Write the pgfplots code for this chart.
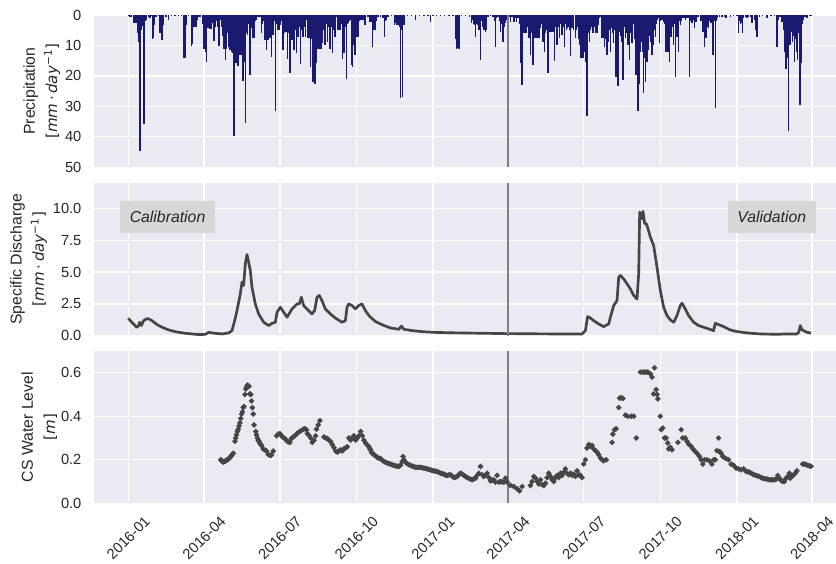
\documentclass[border=0pt]{standalone}
\usepackage{pgfplots}
\usepackage{pgfplotstable}
\pgfplotsset{compat=1.18}
\usepackage{fontspec}
\setmainfont{Liberation Sans}
\newfontfamily\dejavu{DejaVu Sans}
\definecolor{bgc}{HTML}{EAEAF2}
\definecolor{pcol}{HTML}{191970}
\definecolor{lcol}{HTML}{454545}
\definecolor{vcol}{HTML}{808080}
\definecolor{txt}{HTML}{262626}
\definecolor{boxc}{RGB}{215,215,217}
\newcommand{\unitline}[1]{{\dejavu\fontsize{11.3}{14}\selectfont[#1]}}

\pgfplotstableread{
d v
0 0.3
2 0.5
4 0.8
6 1.2
7 2.5
8 2.7
9 1.8
10 2.6
11 6.0
12 8.8
13 3.0
14 44.5
15 5.0
16 4.5
17 3.5
18 5.0
19 35.8
20 2.0
21 1.6
22 0.8
24 0.5
26 1.0
28 0.4
29 7.9
30 7.5
31 3.3
33 0.5
36 0.3
38 6.0
40 8.2
41 8.2
42 3.3
45 0.5
48 1.5
52 0.3
56 0.3
60 0.3
64 0.3
67 14.1
68 14.2
69 3.3
72 0.4
76 10.2
77 9.5
78 3.8
79 3.5
80 3.9
81 2.5
82 3.8
83 1.6
85 0.5
87 0.8
89 3.0
90 11.0
91 11.0
92 4.5
93 12.0
94 15.3
95 4.4
96 4.4
97 3.0
98 4.5
99 2.0
100 4.5
101 2.5
102 4.4
103 8.4
104 3.0
105 3.8
106 2.0
107 3.8
108 2.0
109 10.2
110 1.5
111 1.1
112 4.0
113 7.0
114 11.0
115 9.0
116 11.0
117 14.8
118 11.0
119 6.0
120 10.4
121 8.0
122 11.5
123 9.0
124 12.0
125 12.6
126 9.0
127 39.7
128 15.9
129 12.0
130 15.9
131 15.0
132 16.7
133 8.0
134 13.2
135 10.0
136 13.2
137 5.0
138 21.7
139 8.0
140 15.3
141 35.3
142 6.0
143 6.6
144 3.0
145 2.0
146 19.7
147 2.0
148 4.4
149 7.7
150 3.0
151 7.7
152 2.0
154 1.6
156 0.5
158 0.8
160 6.0
161 3.0
163 2.0
164 8.2
165 5.0
166 11.5
167 4.0
168 8.2
169 7.7
170 5.0
171 7.7
172 13.9
173 3.0
174 6.6
175 2.0
177 31.5
178 3.0
179 4.9
180 4.9
181 4.9
182 2.0
183 3.3
184 2.0
185 2.0
186 11.5
187 6.0
188 5.5
189 3.0
190 5.5
191 14.6
192 6.0
193 4.0
194 19.2
195 5.0
196 8.2
197 4.0
198 8.2
199 11.5
200 5.0
201 3.0
202 12.4
203 4.0
204 7.1
205 3.0
206 4.0
207 16.2
208 5.0
209 3.0
210 7.1
211 2.0
212 4.0
213 7.1
214 1.5
215 3.0
216 7.7
217 5.0
218 7.7
219 17.0
220 8.0
221 10.0
222 21.9
223 12.0
224 22.8
225 10.0
226 15.9
227 9.0
228 11.0
229 7.0
230 11.0
231 9.0
232 11.0
233 9.3
234 5.0
235 4.0
236 9.9
237 5.0
238 3.0
239 8.8
240 4.0
241 2.0
242 11.0
243 6.0
244 4.0
245 12.4
246 5.0
247 3.0
248 7.1
249 1.1
250 0.5
252 4.9
253 3.0
254 4.9
255 4.9
256 3.0
257 14.6
258 4.0
259 12.6
260 2.0
261 4.0
262 21.0
263 3.0
264 2.7
265 2.0
266 1.6
267 1.6
268 16.4
269 17.0
270 10.0
271 5.0
272 13.2
273 3.0
274 7.1
275 4.0
276 7.1
277 2.0
278 1.6
279 1.0
280 1.6
282 1.6
284 3.3
285 1.0
288 0.8
290 2.2
291 1.0
292 2.2
293 10.5
294 4.9
295 4.9
296 3.0
297 4.9
298 2.0
300 0.5
303 0.5
306 1.0
308 7.1
309 2.0
310 1.6
312 0.5
316 0.3
320 3.3
321 2.5
322 3.3
323 2.0
324 3.3
325 3.3
326 4.0
327 27.4
328 5.0
329 27.0
330 3.3
331 3.3
332 1.0
335 0.3
340 0.3
345 1.8
350 0.3
355 0.3
360 0.3
363 2.2
366 0.3
370 0.3
375 0.3
380 0.3
385 0.3
390 0.3
393 8.0
394 11.2
395 3.0
396 10.7
397 11.0
398 2.0
400 0.3
405 0.3
410 0.5
412 2.7
413 1.5
415 3.0
416 3.3
417 7.1
418 2.0
419 3.0
420 3.3
421 5.0
422 3.0
423 14.8
424 2.0
425 1.5
426 3.8
427 4.9
428 2.0
429 5.5
430 4.9
432 0.5
435 0.3
438 0.5
440 2.0
441 10.5
442 1.0
444 0.5
446 2.0
447 5.5
448 3.0
449 2.0
450 9.0
451 4.0
453 2.7
455 1.5
457 0.5
459 2.2
461 0.5
463 2.2
465 1.0
466 2.2
468 1.0
470 3.0
471 15.8
472 5.0
473 23.0
474 6.0
475 6.0
476 4.0
477 6.0
478 6.0
479 3.0
480 4.0
481 7.7
482 5.0
483 13.2
484 4.0
485 6.0
486 16.5
487 5.0
488 7.7
489 7.7
490 4.0
491 7.7
492 5.0
493 7.7
494 3.0
495 4.4
496 3.0
497 2.0
498 8.8
499 4.0
500 12.1
501 6.0
502 5.0
503 4.0
504 19.2
505 4.0
506 5.5
507 5.5
508 5.5
509 3.0
510 5.5
511 4.0
512 15.1
513 4.0
514 3.0
515 9.9
516 4.0
517 3.0
518 7.7
519 3.0
520 5.0
521 6.6
522 4.0
523 3.0
524 10.4
525 3.0
526 5.0
527 4.4
528 3.0
529 4.0
530 5.0
531 13.5
532 4.0
533 4.4
534 3.0
535 5.0
537 7.7
538 5.0
539 3.8
540 3.0
541 8.0
542 10.0
543 14.2
544 12.0
545 14.2
546 10.0
547 14.2
548 12.0
549 15.3
550 10.0
551 33.2
552 6.0
553 4.0
554 8.8
555 5.0
556 3.3
557 4.0
558 6.0
559 6.0
560 4.0
561 6.0
562 3.0
563 6.0
564 3.3
565 3.3
566 1.0
567 0.5
569 7.7
570 4.0
571 7.7
572 10.4
573 5.0
574 8.0
575 13.2
576 6.0
577 8.8
578 5.0
579 12.1
580 3.0
581 4.4
582 6.0
583 9.3
584 5.0
585 4.0
586 20.3
587 6.0
588 23.3
589 4.0
590 5.5
591 3.0
592 7.0
593 8.8
594 21.4
595 5.0
596 4.0
597 7.7
598 5.0
599 6.0
600 9.9
601 5.0
602 14.8
603 6.0
604 4.0
605 9.3
606 3.0
607 2.7
608 8.0
609 12.0
610 19.7
611 15.0
612 31.5
613 10.0
614 22.5
615 12.0
616 9.0
617 8.8
618 12.0
619 25.5
620 14.0
621 21.9
622 10.0
623 15.3
624 9.0
625 11.5
626 7.0
627 8.8
628 6.0
629 13.2
630 6.0
631 9.9
632 5.0
633 7.1
634 3.0
635 1.5
636 1.0
638 9.3
639 2.0
640 1.0
641 1.6
643 2.2
644 3.0
645 5.0
646 12.2
647 8.0
648 12.2
649 5.0
650 15.5
651 4.0
652 7.1
653 3.0
654 4.0
655 9.9
656 3.0
657 20.3
658 4.0
659 7.1
660 3.0
661 12.1
662 2.0
663 3.3
664 2.0
666 1.0
668 1.0
669 1.6
671 1.0
673 1.0
674 20.3
675 2.0
677 2.7
678 1.5
680 4.4
681 1.5
682 2.2
684 0.5
687 1.1
688 2.0
690 5.5
691 4.0
692 10.4
693 6.0
694 7.7
695 3.0
696 4.0
697 4.4
698 2.0
700 2.7
701 2.0
702 13.2
703 5.0
704 2.0
705 30.5
706 2.0
707 1.0
710 0.5
713 0.8
716 0.5
718 1.0
723 0.5
727 0.3
731 0.3
733 6.0
734 2.0
735 3.0
736 2.7
737 1.0
738 6.0
739 1.0
741 0.5
743 1.1
745 0.5
747 0.5
749 2.7
750 1.0
752 1.6
753 5.0
755 7.1
756 1.0
758 0.5
762 0.3
767 1.1
772 0.3
776 0.3
779 10.4
780 2.0
781 1.6
783 0.5
785 2.2
786 1.0
787 5.0
788 12.2
789 8.0
790 17.8
791 12.0
792 14.0
793 38.1
794 8.0
795 9.9
796 5.0
797 5.5
798 9.0
799 7.0
800 15.3
801 8.0
802 7.7
803 12.0
804 14.8
805 6.0
806 14.8
807 29.4
808 15.9
809 3.0
810 1.0
811 1.6
813 0.5
815 0.9
818 0.3
820 0.3
}\precip

\pgfplotstableread{
d v
0 1.37
4 1.05
8 0.80
10 0.66
12 0.75
13.6 1.05
15.6 0.79
18.4 1.18
22.4 1.34
25 1.30
28.4 1.18
34.4 0.87
40.4 0.66
48.4 0.45
55 0.33
60.5 0.26
68.5 0.18
76.5 0.13
84.5 0.08
92.5 0.10
96.5 0.26
100 0.22
104.5 0.18
112.5 0.13
120.5 0.21
124.5 0.39
127.7 1.18
130.5 1.97
134.5 3.29
136.5 4.21
138.5 3.95
140.5 5.66
142.5 6.39
144.5 5.79
146.5 5.13
148.5 3.82
152.5 2.50
156.5 1.71
162.6 1.05
168.6 0.79
172.6 0.97
176.6 1.05
178.6 1.84
182.6 2.24
186.6 1.84
190.6 1.45
196.6 2.10
202.6 2.50
205.4 2.50
207.8 3.03
210.6 2.37
214.6 2.10
220.6 1.71
223.8 1.97
226.6 3.03
229.4 3.16
232.6 2.76
236.6 2.10
242.6 1.71
248.6 1.39
256.6 1.05
260.7 1.18
262.7 2.24
264.7 2.50
268.7 2.37
272.7 2.10
276.7 2.37
280.7 2.50
284.7 1.97
290 1.50
297 1.10
305 0.85
315 0.60
325 0.50
328 0.75
331 0.50
340 0.40
355 0.30
370 0.25
390 0.22
410 0.20
430 0.18
450 0.16
470 0.15
490 0.14
510 0.13
531 0.13
545 0.13
549 0.39
551.7 1.50
554.9 1.39
558.9 1.18
564.9 0.92
570.9 0.71
577 0.92
579 1.45
583 2.37
587 2.76
589 4.60
591 4.74
595 4.47
599 4.08
603 3.68
607 3.16
611 2.89
613 4.87
614.2 9.74
615.2 9.30
616.2 9.60
617.2 9.20
618.2 9.79
620.2 8.82
622.2 8.82
624.2 8.42
627 7.76
631 7.10
635 5.39
639 3.55
643 2.24
647 1.58
651 1.24
655 1.05
659 1.58
663 2.37
665 2.55
669 2.10
673 1.58
679 1.05
685 0.79
691 0.66
697 0.53
703 0.39
705 0.97
707 0.92
715 0.71
723 0.45
731 0.32
743 0.21
759 0.13
779 0.10
791 0.13
803 0.13
805.2 0.26
807.2 0.79
809.2 0.45
815.2 0.26
820 0.20
}\discharge

\pgfplotstableread{
d v
111 0.200
112 0.195
113 0.192
114 0.190
115 0.193
116 0.192
117 0.195
118 0.198
119 0.200
120 0.203
121 0.205
122 0.210
123 0.215
124 0.220
125 0.225
126 0.230
128 0.285
129 0.300
130 0.315
131 0.330
132 0.340
133 0.355
134 0.370
135 0.390
136 0.410
137 0.420
138 0.440
139 0.445
140 0.500
141 0.525
142 0.535
143 0.543
144 0.540
145 0.538
146 0.503
147 0.500
148 0.470
149 0.440
150 0.410
151 0.360
153 0.330
154 0.315
155 0.300
156 0.290
157 0.285
158 0.275
159 0.270
160 0.265
162 0.250
164 0.245
166 0.240
168 0.225
170 0.220
172 0.222
174 0.240
178 0.310
180 0.318
182 0.320
184 0.310
186 0.302
188 0.298
190 0.288
192 0.282
194 0.280
196 0.298
198 0.305
200 0.310
202 0.318
204 0.325
206 0.330
208 0.335
210 0.340
212 0.343
214 0.338
215 0.320
217 0.312
219 0.300
221 0.280
223 0.290
225 0.310
226 0.340
228 0.360
230 0.380
235 0.305
237 0.300
239 0.298
241 0.290
243 0.283
245 0.270
247 0.255
249 0.240
251 0.235
253 0.240
255 0.246
257 0.240
259 0.250
261 0.254
263 0.260
265 0.300
267 0.290
269 0.300
271 0.310
273 0.290
275 0.300
277 0.310
279 0.330
281 0.310
283 0.290
285 0.277
287 0.268
289 0.260
290 0.250
291 0.246
292 0.235
293 0.230
294 0.228
295 0.223
297 0.218
299 0.210
301 0.207
303 0.205
305 0.198
307 0.192
309 0.188
311 0.185
313 0.182
315 0.180
317 0.177
319 0.174
321 0.172
323 0.170
325 0.170
327 0.175
329 0.192
330 0.215
331 0.200
333 0.188
335 0.182
337 0.177
339 0.174
341 0.170
343 0.168
345 0.165
347 0.165
349 0.165
351 0.165
353 0.163
355 0.162
357 0.160
359 0.158
361 0.156
363 0.154
365 0.150
367 0.149
369 0.147
371 0.146
373 0.142
375 0.138
377 0.136
379 0.134
381 0.130
383 0.128
385 0.130
387 0.131
389 0.125
391 0.118
393 0.120
395 0.123
397 0.133
399 0.138
401 0.134
403 0.128
405 0.123
407 0.118
409 0.115
411 0.110
413 0.108
415 0.112
417 0.115
419 0.128
421 0.138
423 0.169
425 0.131
427 0.123
429 0.130
431 0.138
433 0.118
435 0.103
437 0.106
439 0.108
441 0.097
443 0.128
445 0.097
447 0.100
449 0.098
451 0.097
453 0.115
455 0.097
459 0.082
463 0.077
467 0.066
470 0.057
473 0.077
483 0.082
485 0.100
487 0.123
489 0.115
491 0.100
493 0.088
495 0.108
497 0.085
499 0.082
501 0.092
503 0.118
505 0.138
507 0.123
509 0.108
511 0.100
513 0.118
515 0.128
517 0.118
519 0.138
521 0.128
523 0.143
525 0.158
527 0.138
529 0.131
531 0.138
533 0.128
535 0.134
537 0.123
539 0.149
541 0.131
543 0.128
545 0.118
547 0.180
549 0.200
551 0.254
553 0.270
555 0.262
557 0.266
559 0.250
561 0.242
563 0.235
565 0.223
567 0.208
569 0.200
571 0.195
574 0.200
581 0.280
582 0.318
584 0.338
586 0.343
589 0.440
590 0.483
592 0.485
594 0.482
597 0.405
600 0.400
604 0.400
607 0.400
610 0.300
615 0.603
618 0.603
620 0.603
622 0.603
624 0.603
627 0.595
629 0.580
631 0.503
632 0.623
634 0.523
635 0.500
636 0.480
639 0.400
640 0.338
642 0.346
644 0.300
646 0.300
648 0.277
649 0.250
651 0.257
653 0.246
660 0.280
664 0.338
666 0.300
669 0.300
671 0.285
673 0.272
676 0.262
678 0.250
680 0.242
683 0.230
686 0.215
688 0.200
690 0.180
692 0.200
695 0.200
698 0.195
701 0.180
703 0.200
705 0.200
707 0.242
709 0.300
710 0.238
712 0.230
714 0.215
716 0.210
718 0.205
721 0.200
724 0.180
727 0.174
730 0.162
733 0.158
736 0.154
739 0.158
742 0.146
744 0.145
746 0.143
748 0.138
750 0.134
752 0.130
754 0.128
756 0.125
758 0.123
760 0.118
762 0.115
764 0.113
766 0.112
768 0.110
770 0.108
772 0.108
774 0.108
776 0.108
778 0.110
780 0.128
782 0.115
784 0.105
786 0.100
788 0.100
790 0.115
792 0.123
794 0.138
795 0.115
797 0.123
799 0.130
801 0.138
803 0.149
810 0.180
812 0.180
814 0.178
816 0.174
818 0.172
820 0.170
}\level

\pgfplotsset{
  panel/.style={
    scale only axis, width=556.35pt, height=114.2pt,
    xmin=-41, xmax=850,
    axis background/.style={fill=bgc},
    axis line style={draw=none},
    grid=major, major grid style={white, line width=1pt},
    major tick length=0pt,
    xtick={0,91,182,274,366,456,547,639,731,821},
    tick label style={font=\fontsize{11}{13}\selectfont, text=txt},
    /pgf/number format/assume math mode=true,
    yticklabel style={anchor=east, inner sep=0pt, xshift=-9.4pt},
    label style={font=\fontsize{11.85}{14.2}\selectfont, text=txt, align=center, inner sep=0pt},
  }
}

\begin{document}
\begin{tikzpicture}
\useasboundingbox (0,0) rectangle (627pt,-423pt);

% top panel: precipitation
\begin{axis}[panel, at={(70.65pt,-11.25pt)}, anchor=north west,
  ymin=0, ymax=50, y dir=reverse, ytick={0,10,20,30,40,50},
  xticklabels={},
  ylabel style={at={([xshift=-25.2pt]axis description cs:0,0.5)}, anchor=south},
  ylabel={Precipitation\\[2.5pt]\unitline{\textit{mm}\,·\,\textit{day}\textsuperscript{−1}}}]
\addplot[ycomb, pcol, line width=1.1pt] table[x=d, y=v] {\precip};
\addplot[vcol, line width=1.4pt] coordinates {(456,0) (456,50)};
\end{axis}

% middle panel: discharge
\begin{axis}[panel, at={(70.65pt,-137.5pt)}, anchor=north west,
  ymin=0, ymax=12, ytick={0,2.5,5,7.5,10},
  yticklabel style={/pgf/number format/.cd, fixed, fixed zerofill, precision=1},
  xticklabels={},
  ylabel style={at={([xshift=-35.2pt]axis description cs:0,0.5)}, anchor=south},
  ylabel={Specific Discharge\\[2.5pt]\unitline{\textit{mm}\,·\,\textit{day}\textsuperscript{−1}}}]
\addplot[lcol, line width=2pt, line join=round] table[x=d, y=v] {\discharge};
\addplot[vcol, line width=1.4pt] coordinates {(456,0) (456,12)};
\node[fill=boxc, text=txt, inner xsep=7.1pt, inner ysep=0pt, minimum height=24.5pt,
  font=\itshape\fontsize{11.85}{14}\selectfont] at (axis cs:47.1,9.35) {Calibration};
\node[fill=boxc, text=txt, inner xsep=7.1pt, inner ysep=0pt, minimum height=24.5pt,
  font=\itshape\fontsize{11.85}{14}\selectfont] at (axis cs:772.9,9.35) {Validation};
\end{axis}

% bottom panel: water level
\begin{axis}[panel, at={(70.65pt,-263.25pt)}, anchor=north west,
  ymin=0, ymax=0.7, ytick={0,0.2,0.4,0.6},
  yticklabel style={/pgf/number format/.cd, fixed, fixed zerofill, precision=1},
  xticklabels={2016-01,2016-04,2016-07,2016-10,2017-01,2017-04,2017-07,2017-10,2018-01,2018-04},
  xticklabel style={yshift=-25.9pt, rotate=45, anchor=center, inner sep=0pt},
  ylabel style={at={([xshift=-27.6pt]axis description cs:0,0.5)}, anchor=south},
  ylabel={CS Water Level\\[2.5pt]\unitline{\textit{m}}}]
\addplot[only marks, mark=square*, mark size=1.4pt, color=lcol,
  mark options={rotate=45, draw=lcol, fill=lcol, line width=0.2pt}] table[x=d, y=v] {\level};
\addplot[vcol, line width=1.4pt] coordinates {(456,0) (456,0.7)};
\end{axis}
\end{tikzpicture}
\end{document}
